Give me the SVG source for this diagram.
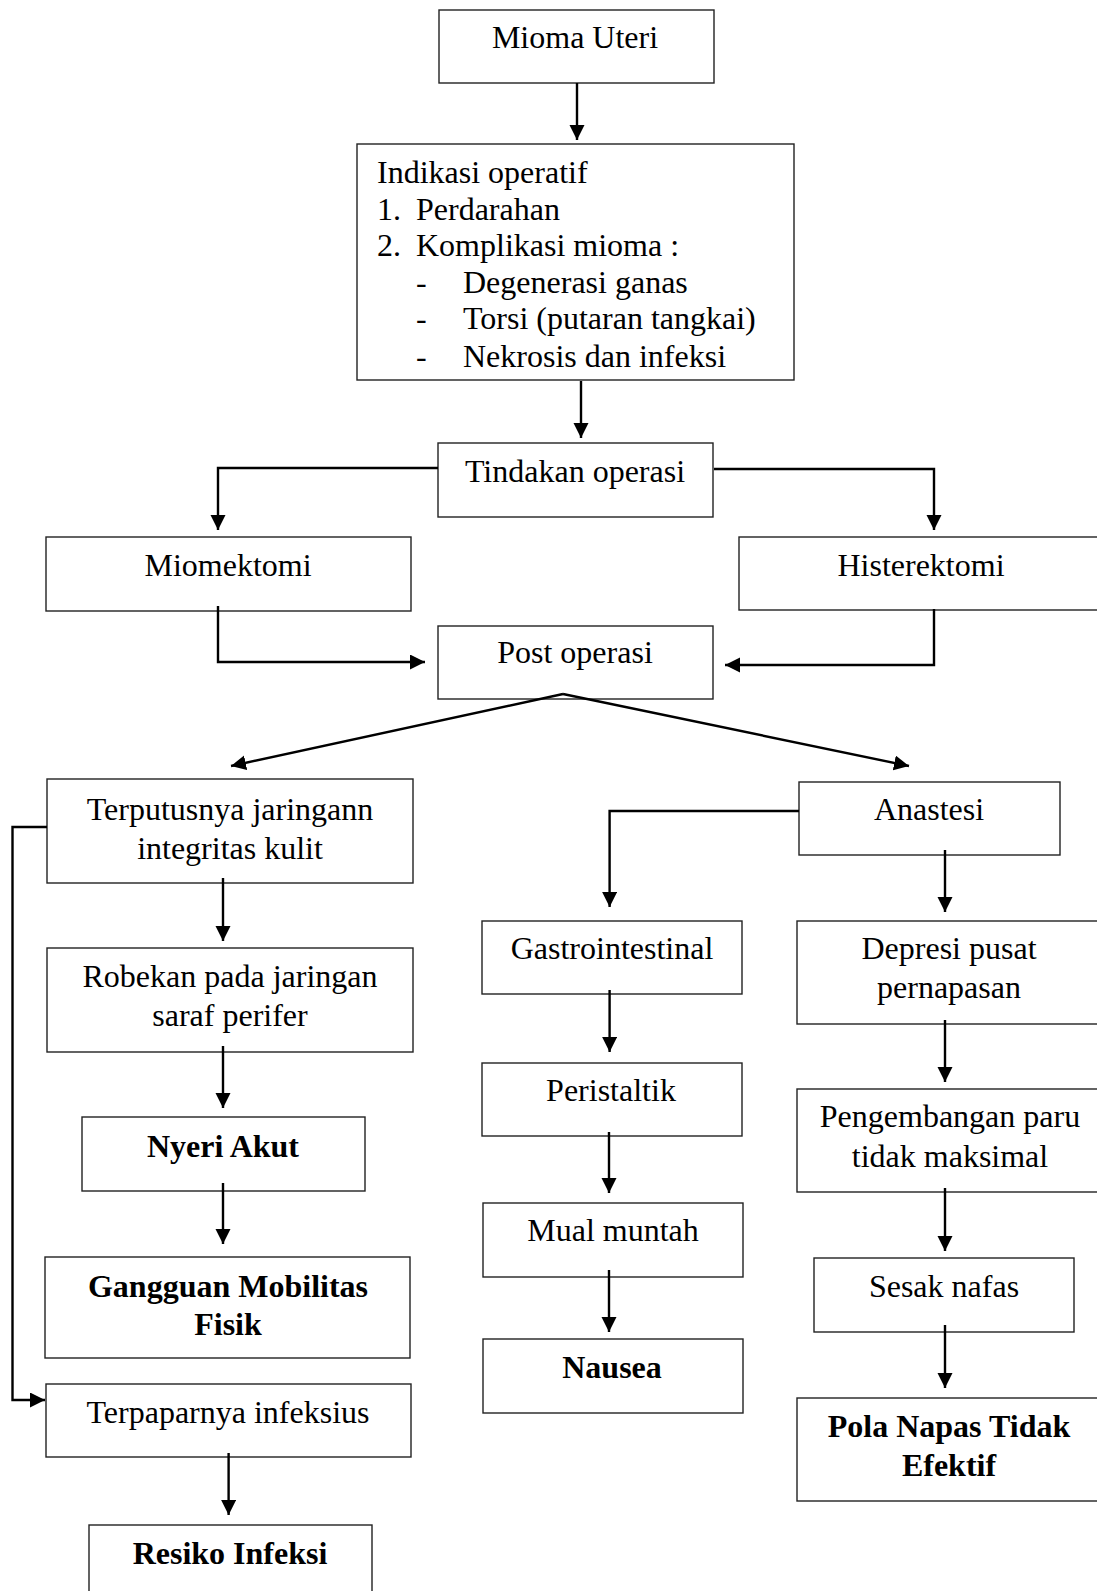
<svg xmlns="http://www.w3.org/2000/svg" width="1097" height="1591" viewBox="0 0 1097 1591">
<style>
.box{fill:#fff;stroke:#222;stroke-width:1.4}
.t{font-family:"Liberation Serif","Times New Roman",serif;font-size:32px;fill:#000}
.c{text-anchor:middle}
.b{font-weight:bold}
.con{fill:none;stroke:#000;stroke-width:2.4;marker-end:url(#ah)}
</style>
<defs>
<marker id="ah" markerUnits="userSpaceOnUse" markerWidth="16" markerHeight="16" refX="15" refY="7.5" orient="auto">
<path d="M0,0 L15,7.5 L0,15 z" fill="#000"/>
</marker>
</defs>
<rect width="1097" height="1591" fill="#fff"/>
<g id="mioma-uteri"><rect class="box" x="439" y="10" width="275" height="73"/><text class="t c" x="575" y="48">Mioma Uteri</text></g>
<g id="indikasi"><rect class="box" x="357" y="144" width="437" height="236"/>
<text class="t" x="377" y="183">Indikasi operatif</text>
<text class="t" x="377" y="220">1.</text><text class="t" x="416" y="220">Perdarahan</text>
<text class="t" x="377" y="256">2.</text><text class="t" x="416" y="256">Komplikasi mioma :</text>
<text class="t" x="416" y="293">-</text><text class="t" x="463" y="293">Degenerasi ganas</text>
<text class="t" x="416" y="329">-</text><text class="t" x="463" y="329">Torsi (putaran tangkai)</text>
<text class="t" x="416" y="367">-</text><text class="t" x="463" y="367">Nekrosis dan infeksi</text>
</g>
<g id="tindakan"><rect class="box" x="438" y="443" width="275" height="74"/><text class="t c" x="575" y="482">Tindakan operasi</text></g>
<g id="miomektomi"><rect class="box" x="46" y="537" width="365" height="74"/><text class="t c" x="228" y="576">Miomektomi</text></g>
<g id="histerektomi"><rect class="box" x="739" y="537" width="370" height="73"/><text class="t c" x="921" y="576">Histerektomi</text></g>
<g id="post-operasi"><rect class="box" x="438" y="626" width="275" height="73"/><text class="t c" x="575" y="663">Post operasi</text></g>
<g id="terputusnya"><rect class="box" x="47" y="779" width="366" height="104"/><text class="t c" x="230" y="820">Terputusnya jaringann</text><text class="t c" x="230" y="859">integritas kulit</text></g>
<g id="robekan"><rect class="box" x="47" y="948" width="366" height="104"/><text class="t c" x="230" y="987">Robekan pada jaringan</text><text class="t c" x="230" y="1026">saraf perifer</text></g>
<g id="nyeri-akut"><rect class="box" x="82" y="1117" width="283" height="74"/><text class="t c b" x="223" y="1157">Nyeri Akut</text></g>
<g id="gangguan"><rect class="box" x="45" y="1257" width="365" height="101"/><text class="t c b" x="228" y="1297">Gangguan Mobilitas</text><text class="t c b" x="228" y="1335">Fisik</text></g>
<g id="terpaparnya"><rect class="box" x="46" y="1384" width="365" height="73"/><text class="t c" x="228" y="1423">Terpaparnya infeksius</text></g>
<g id="resiko-infeksi"><rect class="box" x="89" y="1525" width="283" height="80"/><text class="t c b" x="230" y="1564">Resiko Infeksi</text></g>
<g id="anastesi"><rect class="box" x="799" y="782" width="261" height="73"/><text class="t c" x="929" y="820">Anastesi</text></g>
<g id="gastrointestinal"><rect class="box" x="482" y="921" width="260" height="73"/><text class="t c" x="612" y="959">Gastrointestinal</text></g>
<g id="peristaltik"><rect class="box" x="482" y="1063" width="260" height="73"/><text class="t c" x="611" y="1101">Peristaltik</text></g>
<g id="mual-muntah"><rect class="box" x="483" y="1203" width="260" height="74"/><text class="t c" x="613" y="1241">Mual muntah</text></g>
<g id="nausea"><rect class="box" x="483" y="1339" width="260" height="74"/><text class="t c b" x="612" y="1378">Nausea</text></g>
<g id="depresi"><rect class="box" x="797" y="921" width="310" height="103"/><text class="t c" x="949" y="959">Depresi pusat</text><text class="t c" x="949" y="998">pernapasan</text></g>
<g id="pengembangan"><rect class="box" x="797" y="1089" width="310" height="103"/><text class="t c" x="950" y="1127">Pengembangan paru</text><text class="t c" x="950" y="1167">tidak maksimal</text></g>
<g id="sesak-nafas"><rect class="box" x="814" y="1258" width="260" height="74"/><text class="t c" x="944" y="1297">Sesak nafas</text></g>
<g id="pola-napas"><rect class="box" x="797" y="1398" width="310" height="103"/><text class="t c b" x="949" y="1437">Pola Napas Tidak</text><text class="t c b" x="949" y="1476">Efektif</text></g>
<g id="connectors">
<path class="con" d="M577,83 L577,140"/>
<path class="con" d="M581,381 L581,438"/>
<path class="con" d="M438,468 L218,468 L218,530"/>
<path class="con" d="M714,469 L934,469 L934,530"/>
<path class="con" d="M218,606 L218,662 L425,662"/>
<path class="con" d="M934,609 L934,665 L725,665"/>
<path class="con" d="M563,694 L231,766"/>
<path class="con" d="M563,694 L909,766"/>
<path class="con" d="M47,827 L12.5,827 L12.5,1400 L45,1400"/>
<path class="con" d="M223,878 L223,941"/>
<path class="con" d="M223,1046 L223,1108"/>
<path class="con" d="M223,1183 L223,1244"/>
<path class="con" d="M228.6,1453 L228.6,1515"/>
<path class="con" d="M799,811 L609.6,811 L609.6,907"/>
<path class="con" d="M945,850 L945,912"/>
<path class="con" d="M609.6,990 L609.6,1052"/>
<path class="con" d="M609,1132 L609,1193"/>
<path class="con" d="M609,1270 L609,1332"/>
<path class="con" d="M945,1020 L945,1082"/>
<path class="con" d="M945,1188 L945,1251"/>
<path class="con" d="M945,1325 L945,1388"/>
</g>
</svg>
